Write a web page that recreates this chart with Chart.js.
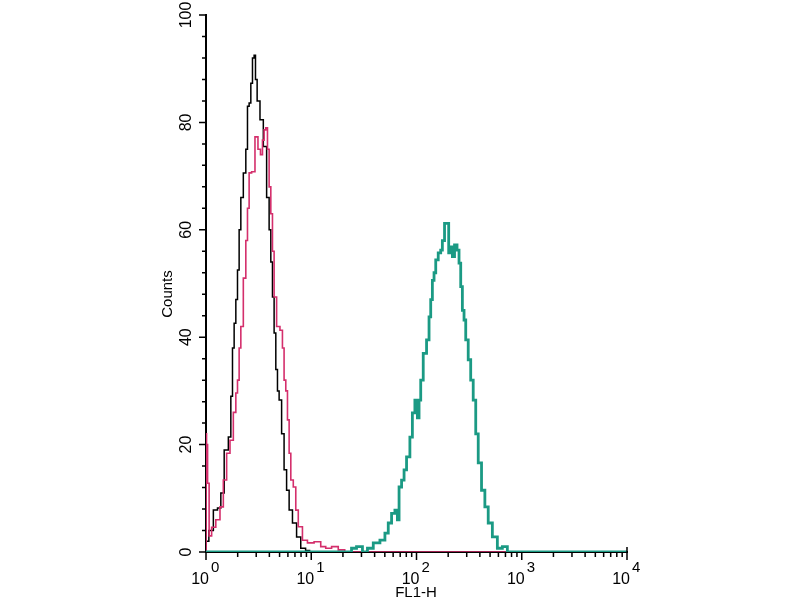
<!DOCTYPE html>
<html>
<head>
<meta charset="utf-8">
<script src="https://cdn.jsdelivr.net/npm/chart.js@4"></script>
<style>
  body { margin: 0; background: #fff; }
</style>
</head>
<body>
<canvas id="histo" width="800" height="600"></canvas>
<script>
// FL1-H histogram
const blackX = [1.0, 1.133, 1.218, 1.358, 1.409, 1.573, 1.69, 1.754, 1.817, 1.885, 1.957, 2.027, 2.103, 2.183,
  2.345, 2.435, 2.522, 2.617, 2.717, 2.813, 2.92, 2.985, 3.139, 3.381, 3.633, 3.906, 4.053, 4.206, 4.357,
  4.52, 4.693, 4.861, 5.044, 5.42, 5.62, 6.05, 6.28, 7.0, 7.52, 8.4, 9.3, 10, 10000];
const blackY = [2, 4, 7.8, 8.2, 11, 19, 21.4, 29, 38, 42.6, 47, 52.5, 60, 66,
  70.6, 75, 83, 83.6, 87.3, 92, 92.5, 88, 84, 80.5, 75.5, 66, 60, 54, 47.5,
  40.8, 34, 30, 28.3, 22, 15.3, 11.5, 7.8, 5.4, 2.8, 0.7, 0.3, 0, 0];

const pinkX = [1.0, 1.004, 1.02, 1.051, 1.091, 1.173, 1.309, 1.409, 1.515, 1.629, 1.754, 1.885, 1.957, 2.027,
  2.103, 2.183, 2.345, 2.435, 2.522, 2.617, 2.813, 3.03, 3.207, 3.381, 3.5, 3.633, 3.771, 3.906, 4.053,
  4.206, 4.357, 4.52, 4.861, 5.23, 5.42, 5.62, 5.84, 6.05, 6.28, 6.51, 7.0, 7.26, 7.81, 8.71, 9.72,
  11.65, 13.0, 14.5, 16.8, 19.4, 22.3, 10000];
const pinkY = [0, 22, 20, 12.8, 3, 4.6, 6, 8.4, 13.4, 18.4, 20.8, 26, 29.6, 32,
  38, 42, 51, 58, 64, 70.6, 70.8, 77.3, 75, 74, 76.7, 78.6, 79, 75, 68,
  63, 56, 47.5, 42, 41.3, 38, 32, 30, 24.6, 18.4, 13.4, 12.1, 7.8, 4.7, 2.2, 1.7,
  1.9, 1, 0.7, 1, 0.4, 0, 0];

const tealX = [1, 23.3, 25.0, 29.0, 32.4, 36.1, 41.8, 48.3, 52.0, 55.9, 60.1, 64.7, 67.0, 69.6, 74.8, 77.6,
  83.4, 89.8, 93.0, 100.2, 103.8, 107.7, 111.7, 120.2, 129.2, 134.0, 139.0, 144.1, 149.5, 155.2,
  166.7, 173.0, 179.3, 190.2, 200.0, 204.5, 215.4, 223.2, 236.6, 248.9, 258.3, 268.0, 277.7,
  288.2, 299.1, 321.4, 333.4, 358.7, 372.3, 400.2, 429.9, 463.3, 497.8, 555.3, 619.5, 691.0, 771, 10000];
const tealY = [0, 0, 0.7, 1, 0, 0.7, 1.7, 2.2, 3.5, 5.4, 7.2, 7.8, 6, 12.1, 13.4, 15.3,
  17.7, 21.4, 25.9, 28.3, 25, 28.3, 32, 37, 39.5, 43.8, 47, 50.6, 52, 54.4,
  55.7, 56.2, 58, 61.2, 61.2, 55.7, 56.8, 55, 57.2, 56.2, 53.8, 49.4, 45,
  43.2, 39.5, 35.8, 32, 28.3, 22, 16.6, 11.5, 8.4, 5.4, 2.8, 0.7, 1, 0, 0];

const yTicks = [0, 20, 40, 60, 80, 100];
const xDecades = [0, 1, 2, 3, 4];

const zip = (xs, ys) => xs.map((x, i) => ({ x: x, y: ys[i] }));

const FONT = '"Liberation Sans", Arial, sans-serif';

const axisDecor = {
    id: 'axisDecor',
    afterDraw(chart) {
        const ctx = chart.ctx;
        const xs = chart.scales.x;
        const ys = chart.scales.y;
        const x0 = xs.left;
        const y0 = ys.bottom;

        ctx.save();
        ctx.strokeStyle = '#000';
        ctx.lineWidth = 1.5;
        ctx.beginPath();
        // y ticks, minor every 4
        for (let v = 0; v <= 100; v += 4) {
            const py = ys.getPixelForValue(v);
            const len = v % 20 === 0 ? 7 : 4;
            ctx.moveTo(x0 - len, py);
            ctx.lineTo(x0, py);
        }
        // x ticks, log minors
        xDecades.forEach(d => {
            const base = Math.pow(10, d);
            const px = xs.getPixelForValue(base);
            ctx.moveTo(px, y0 - (d === 4 ? 5 : 0));
            ctx.lineTo(px, y0 + 8);
            if (d < 4) {
                for (let k = 2; k <= 9; k++) {
                    const mx = xs.getPixelForValue(k * base);
                    ctx.moveTo(mx, y0);
                    ctx.lineTo(mx, y0 + 5);
                }
            }
        });
        ctx.stroke();

        ctx.fillStyle = '#000';
        // y labels, rotated
        ctx.textAlign = 'center';
        ctx.textBaseline = 'middle';
        ctx.font = '16px ' + FONT;
        yTicks.forEach(v => {
            ctx.save();
            ctx.translate(187, ys.getPixelForValue(v));
            ctx.rotate(-Math.PI / 2);
            ctx.fillText(String(v), 0, 0);
            ctx.restore();
        });

        // x labels 10^n
        xDecades.forEach(d => {
            const px = xs.getPixelForValue(Math.pow(10, d));
            ctx.textBaseline = 'alphabetic';
            ctx.textAlign = 'right';
            ctx.font = '16px ' + FONT;
            ctx.fillText('10', px + 3, 584);
            ctx.textAlign = 'left';
            ctx.font = '15px ' + FONT;
            ctx.fillText(String(d), px + 5, 572);
        });

        // axis titles
        ctx.textAlign = 'center';
        ctx.textBaseline = 'middle';
        ctx.font = '15px ' + FONT;
        ctx.fillText('FL1-H', 416, 593);
        ctx.save();
        ctx.translate(168, 294);
        ctx.rotate(-Math.PI / 2);
        ctx.fillText('Counts', 0, 0);
        ctx.restore();
        ctx.restore();
    }
};

const ctx = document.getElementById('histo').getContext('2d');
new Chart(ctx, {
    type: 'scatter',
    data: {
        datasets: [
            { label: 'teal', data: zip(tealX, tealY), borderColor: '#1b9a84', borderWidth: 2.8 },
            { label: 'pink', data: zip(pinkX, pinkY), borderColor: '#d42f6c', borderWidth: 1.6 },
            { label: 'black', data: zip(blackX, blackY), borderColor: '#000000', borderWidth: 1.5 }
        ].map(ds => Object.assign(ds, { showLine: true, stepped: 'middle', pointRadius: 0, fill: false }))
    },
    options: {
        responsive: false,
        animation: false,
        devicePixelRatio: 1,
        layout: { padding: { left: 206, right: 173, top: 15, bottom: 48 } },
        plugins: { legend: { display: false }, tooltip: { enabled: false } },
        scales: {
            x: {
                type: 'logarithmic', min: 1, max: 10000,
                grid: { display: false, drawTicks: false },
                border: { display: true, color: '#000', width: 2 },
                ticks: { display: false },
                afterFit(s) { s.height = 0; }
            },
            y: {
                min: 0, max: 100,
                grid: { display: false, drawTicks: false },
                border: { display: true, color: '#000', width: 2 },
                ticks: { display: false },
                afterFit(s) { s.width = 0; }
            }
        }
    },
    plugins: [axisDecor]
});
</script>
</body>
</html>
